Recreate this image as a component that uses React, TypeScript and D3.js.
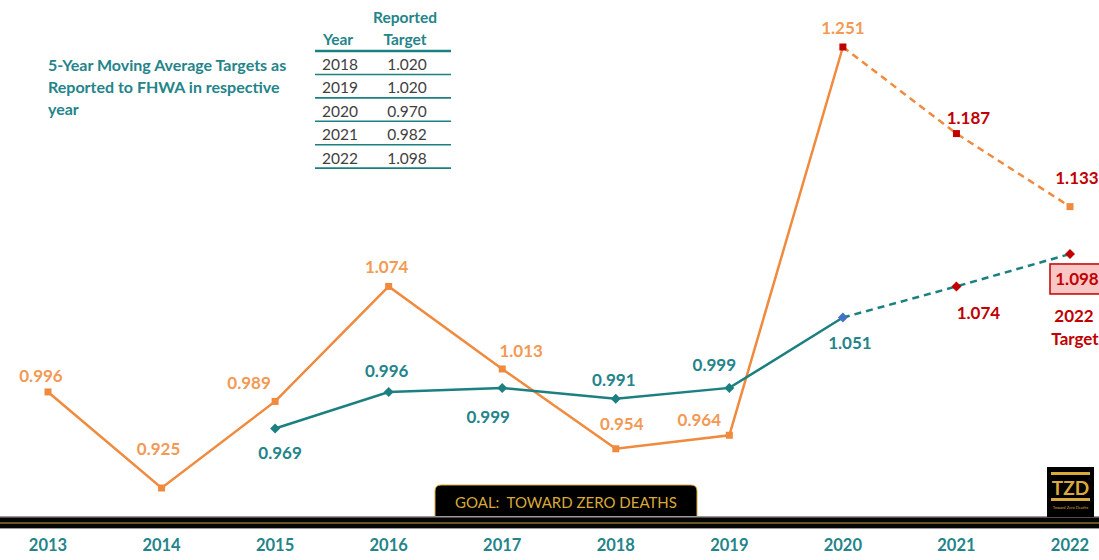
import React from 'react';
import * as d3 from 'd3';

// fatality rate per 100M VMT, actual and projected
const years = ['2013', '2014', '2015', '2016', '2017', '2018', '2019', '2020', '2021', '2022'];
const rateYears = ['2013', '2014', '2015', '2016', '2017', '2018', '2019', '2020'];
const rateValues = [0.996, 0.925, 0.989, 1.074, 1.013, 0.954, 0.964, 1.251];
const rateProjYears = ['2020', '2021', '2022'];
const rateProjValues = [1.251, 1.187, 1.133];

// 5-year moving average
const avgYears = ['2015', '2016', '2017', '2018', '2019', '2020'];
const avgValues = [0.969, 0.996, 0.999, 0.991, 0.999, 1.051];
const avgProjYears = ['2020', '2021', '2022'];
const avgProjValues = [1.051, 1.074, 1.098];

// reported targets table
const tableYears = ['2018', '2019', '2020', '2021', '2022'];
const tableTargets = ['1.020', '1.020', '0.970', '0.982', '1.098'];

// hand placed label nudges, like the original
const rateLabelOffset = [[-7, -16], [-3, -40], [-26, -19], [-2, -20], [19, -18], [6, -25], [-30, -16], [0, -20]];
const rateProjLabelOffset = [[0, 0], [12, -16], [7, -29]];
const avgLabelOffset = [[5, 24], [-2, -21], [-14, 29], [-2, -19], [-15, -23], [7, 25]];
const avgProjLabelOffset = [[0, 0], [22, 26], [7, 25]];

const ORANGE = '#F08A3E';
const ORANGE_TXT = '#F29A55';
const TEAL = '#1C7F80';
const TEAL_TXT = '#23848A';
const RED = '#C00000';
const GOLD = '#D9A93A';
const FONT = 'Lato, "Open Sans", sans-serif';

const W = 1099;
const H = 560;

const App = () => {
  const x = d3.scalePoint<string>().domain(years).range([48, 1070]);
  const y = d3.scaleLinear().domain([0.925, 1.251]).range([488, 47]);

  const line = d3.line<[string, number]>()
    .x(d => x(d[0]) as number)
    .y(d => y(d[1]));

  const rate = rateYears.map((yr, i) => [yr, rateValues[i]] as [string, number]);
  const rateProj = rateProjYears.map((yr, i) => [yr, rateProjValues[i]] as [string, number]);
  const avg = avgYears.map((yr, i) => [yr, avgValues[i]] as [string, number]);
  const avgProj = avgProjYears.map((yr, i) => [yr, avgProjValues[i]] as [string, number]);

  const square = (cx, cy, fill, key) => (
    <rect key={key} x={cx - 3.5} y={cy - 3.5} width={7} height={7} fill={fill} />
  );
  const diamond = (cx, cy, fill, key) => (
    <path key={key} d={`M${cx},${cy - 5}L${cx + 5},${cy}L${cx},${cy + 5}L${cx - 5},${cy}Z`} fill={fill} />
  );

  const label = (txt, cx, cy, fill, key) => (
    <text key={key} x={cx} y={cy} fill={fill} textAnchor="middle" dominantBaseline="central"
      fontFamily={FONT} fontWeight={700} fontSize={17}>{txt}</text>
  );

  const tableX0 = 315;
  const tableX1 = 451;
  const rowH = 23.4;

  return (
    <svg width={W} height={H} style={{ position: 'absolute', left: 0, top: 0, background: '#fff' }}>
      {/* table note */}
      <g fontFamily={FONT} fontWeight={700} fontSize={16} fill={TEAL_TXT}>
        <text x={48} y={71}>5-Year Moving Average Targets as</text>
        <text x={48} y={93}>Reported to FHWA in respective</text>
        <text x={48} y={115}>year</text>
      </g>
      <g fontFamily={FONT} fontSize={15.5}>
        <text x={405} y={17} textAnchor="middle" dominantBaseline="central" fontWeight={700} fill={TEAL_TXT}>Reported</text>
        <text x={338} y={39} textAnchor="middle" dominantBaseline="central" fontWeight={700} fill={TEAL_TXT}>Year</text>
        <text x={405} y={39} textAnchor="middle" dominantBaseline="central" fontWeight={700} fill={TEAL_TXT}>Target</text>
        <line x1={tableX0} x2={tableX1} y1={51} y2={51} stroke={TEAL} strokeWidth={2.5} />
        {tableYears.map((yr, i) => (
          <g key={yr}>
            <text x={340} y={64 + i * rowH} textAnchor="middle" dominantBaseline="central" fill="#404040">{yr}</text>
            <text x={407} y={64 + i * rowH} textAnchor="middle" dominantBaseline="central" fill="#404040">{tableTargets[i]}</text>
            <line x1={tableX0} x2={tableX1} y1={74.5 + i * rowH} y2={74.5 + i * rowH} stroke={TEAL} strokeWidth={1.6} />
          </g>
        ))}
      </g>

      {/* goal banner and bottom bar */}
      <path d="M435,518V491Q435,485 441,485H691Q697,485 697,491V518Z" fill="#000" stroke={GOLD} strokeWidth={1} />
      <text x={566} y={502} textAnchor="middle" dominantBaseline="central" fontFamily={FONT} fontSize={15}
        fill={GOLD} style={{ whiteSpace: 'pre' }}>GOAL:  TOWARD ZERO DEATHS</text>
      <rect x={0} y={516} width={W} height={13} fill="#9a9a9a" />
      <rect x={0} y={517.5} width={W} height={10.5} fill="#050505" />
      <line x1={0} x2={W} y1={523} y2={523} stroke="#8a7330" strokeWidth={1.6} />

      {/* TZD logo */}
      <g>
        <rect x={1047} y={467} width={47} height={50} fill="#000" />
        <rect x={1051} y={472} width={39} height={3} fill={GOLD} />
        <text x={1070.5} y={487} textAnchor="middle" dominantBaseline="central" fontFamily={FONT}
          fontWeight={700} fontSize={19} fill={GOLD}>TZD</text>
        <rect x={1051} y={498} width={39} height={3} fill={GOLD} />
        <text x={1070.5} y={507} textAnchor="middle" dominantBaseline="central" fontFamily={FONT}
          fontSize={4} fill={GOLD}>Toward Zero Deaths</text>
      </g>

      {/* lines */}
      <path d={line(rate) || ''} fill="none" stroke={ORANGE} strokeWidth={2.5} />
      <path d={line(rateProj) || ''} fill="none" stroke={ORANGE} strokeWidth={2.5} strokeDasharray="7,5" />
      <path d={line(avg) || ''} fill="none" stroke={TEAL} strokeWidth={2.5} />
      <path d={line(avgProj) || ''} fill="none" stroke={TEAL} strokeWidth={2.5} strokeDasharray="7,5" />

      {/* markers */}
      {rate.map((d, i) => square(x(d[0]), y(d[1]), d[0] === '2020' ? RED : ORANGE, 'rs' + i))}
      {rateProj.slice(1).map((d, i) => square(x(d[0]), y(d[1]), d[0] === '2022' ? ORANGE : RED, 'rps' + i))}
      {avg.map((d, i) => diamond(x(d[0]), y(d[1]), d[0] === '2020' ? '#4472C4' : TEAL, 'ad' + i))}
      {avgProj.slice(1).map((d, i) => diamond(x(d[0]), y(d[1]), RED, 'apd' + i))}

      {/* value labels */}
      {rate.map((d, i) => label(d[1].toFixed(3), (x(d[0]) as number) + rateLabelOffset[i][0],
        y(d[1]) + rateLabelOffset[i][1], ORANGE_TXT, 'rl' + i))}
      {rateProj.slice(1).map((d, i) => label(d[1].toFixed(3), (x(d[0]) as number) + rateProjLabelOffset[i + 1][0],
        y(d[1]) + rateProjLabelOffset[i + 1][1], RED, 'rpl' + i))}
      {avg.map((d, i) => label(d[1].toFixed(3), (x(d[0]) as number) + avgLabelOffset[i][0],
        y(d[1]) + avgLabelOffset[i][1], TEAL_TXT, 'al' + i))}
      {avgProj.slice(1).map((d, i) => {
        const cx = (x(d[0]) as number) + avgProjLabelOffset[i + 1][0];
        const cy = y(d[1]) + avgProjLabelOffset[i + 1][1];
        if (d[0] !== '2022') return label(d[1].toFixed(3), cx, cy, RED, 'apl' + i);
        return (
          <g key={'apl' + i}>
            <rect x={cx - 27} y={cy - 15} width={60} height={30} fill="#F9C6C6" stroke={RED} strokeWidth={1.5} />
            {label(d[1].toFixed(3), cx, cy, RED, 'v')}
            {label(d[0], cx - 3, cy + 37, RED, 'yr')}
            {label('Target', cx - 2, cy + 60, RED, 'tg')}
          </g>
        );
      })}

      {/* x axis labels */}
      {years.map(yr => (
        <text key={yr} x={x(yr)} y={545} textAnchor="middle" dominantBaseline="central" fontFamily={FONT}
          fontWeight={700} fontSize={16.5} fill={TEAL_TXT}>{yr}</text>
      ))}
    </svg>
  );
};

export default App;
